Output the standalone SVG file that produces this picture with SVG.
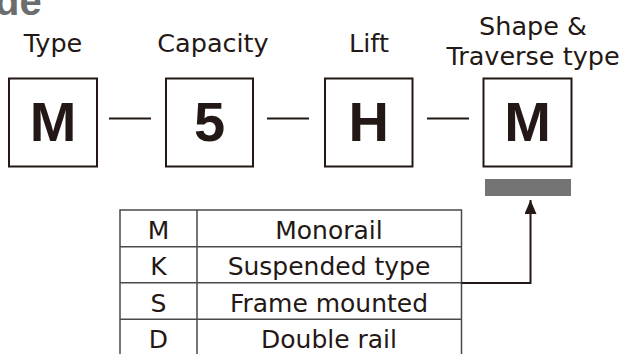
<svg xmlns="http://www.w3.org/2000/svg" width="625" height="354" viewBox="0 0 625 354">
<style>
.lbl{font-family:"DejaVu Sans",sans-serif;font-size:25.5px;fill:#231815;text-anchor:middle}
.tbl{font-family:"DejaVu Sans",sans-serif;font-size:25px;fill:#231815;text-anchor:middle}
.big{font-family:"Liberation Sans",Arial,sans-serif;font-weight:bold;font-size:56px;fill:#231815;text-anchor:middle}
.box{fill:#fff;stroke:#231815;stroke-width:2}
.dash{stroke:#231815;stroke-width:2}
.grid{stroke:#4a4a4a;stroke-width:1.5;fill:none}
</style>
<defs>
<marker id="arr" viewBox="0 0 14 12" refX="14" refY="6" markerWidth="14" markerHeight="12" markerUnits="userSpaceOnUse" orient="auto">
<path d="M0,0 L14,6 L0,12 Z" fill="#231815"/>
</marker>
</defs>
<rect width="625" height="354" fill="#fff"/>
<text x="-5" y="15" font-family="Liberation Sans, Arial, sans-serif" font-weight="bold" font-size="40" fill="#6d6d6d">de</text>
<g id="labels">
<text class="lbl" x="53" y="52">Type</text>
<text class="lbl" x="213" y="52">Capacity</text>
<text class="lbl" x="369" y="52">Lift</text>
<text class="lbl" x="533" y="35">Shape &amp;</text>
<text class="lbl" x="533" y="65">Traverse type</text>
</g>
<g id="box-type"><rect class="box" x="9" y="78.5" width="88" height="88"/><text class="big" x="53" y="141">M</text></g>
<g id="box-capacity"><rect class="box" x="166" y="78.5" width="87" height="88"/><text class="big" x="209.5" y="141">5</text></g>
<g id="box-lift"><rect class="box" x="325" y="78.5" width="87.5" height="88"/><text class="big" x="368.7" y="141">H</text></g>
<g id="box-shape"><rect class="box" x="483.5" y="78.5" width="88" height="88"/><text class="big" x="527.5" y="141">M</text></g>
<g id="dashes">
<line class="dash" x1="109" y1="118.5" x2="151" y2="118.5"/>
<line class="dash" x1="267" y1="118.5" x2="309" y2="118.5"/>
<line class="dash" x1="427" y1="118.5" x2="469" y2="118.5"/>
</g>
<g id="bar"><rect x="485" y="179" width="86" height="17" fill="#747474"/></g>
<g id="table">
<path class="grid" d="M120,354 V210 H461.5 V354 M197,210 V354 M120,246.7 H461.5 M120,282.7 H461.5 M120,319.3 H461.5"/>
<text class="tbl" x="158.5" y="238.5">M</text><text class="tbl" x="329" y="238.5">Monorail</text>
<text class="tbl" x="158.5" y="275">K</text><text class="tbl" x="329" y="275">Suspended type</text>
<text class="tbl" x="158.5" y="311.5">S</text><text class="tbl" x="329" y="311.5">Frame mounted</text>
<text class="tbl" x="158.5" y="348">D</text><text class="tbl" x="329" y="348">Double rail</text>
</g>
<g id="connectors">
<path d="M461.5,283 H530.5 V200" fill="none" stroke="#231815" stroke-width="2" marker-end="url(#arr)"/>
</g>
</svg>
